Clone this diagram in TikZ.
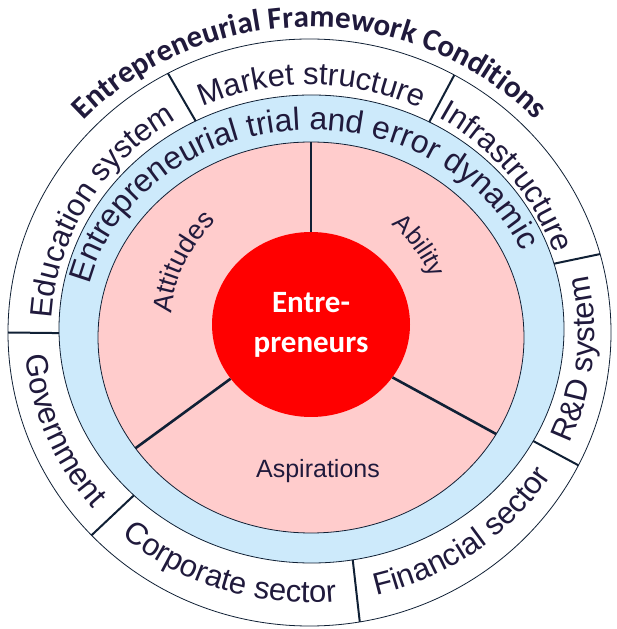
\documentclass[tikz,border=0pt]{standalone}
\usepackage{fontspec}
\setmainfont{Liberation Sans}
\newfontfamily\carlito{Carlito}
\usepackage{tikz}
\usetikzlibrary{shapes.geometric, calc, decorations.text}
\definecolor{ringblue}{RGB}{205,234,251}
\definecolor{piepink}{RGB}{255,204,204}
\definecolor{corered}{RGB}{255,0,0}
\definecolor{inkblue}{RGB}{32,26,60}
\definecolor{lineblue}{RGB}{16,32,53}
\newcommand{\ringfont}{\fontsize{31}{31}\selectfont}
\newcommand{\dynfont}{\fontsize{32}{32}\selectfont}
\newcommand{\piefont}{\fontsize{25}{25}\selectfont}
\newcommand{\sidefont}{\fontsize{27}{27}\selectfont}
\newcommand{\titfont}{\carlito\bfseries\fontsize{31}{31}\selectfont}

\begin{document}
\begin{tikzpicture}[x=1pt, y=1pt,
  rim/.style={draw=lineblue, line width=0.8pt},
  sector/.style={draw=lineblue, line width=2pt},
  wedge/.style={draw=lineblue, line width=2.6pt},
  core/.style={ellipse, fill=corered, minimum width=198pt, minimum height=185pt,
    inner sep=0pt, align=center, text=white,
    font=\carlito\bfseries\fontsize{31}{40}\selectfont},
  pielabel/.style={text=inkblue, font=\piefont, inner sep=0pt},
  arctext/.style={decorate, decoration={text along path, text align=center,
    text color=inkblue, text={#1}}}
]
  \useasboundingbox (0,0) rectangle (616,629);

  \coordinate (outer) at (309.5,296.5);
  \coordinate (ring) at (311.5,300);
  \coordinate (pie) at (311,291.5);

  \draw[rim, fill=white] (outer) ellipse [x radius=301.5pt, y radius=293.5pt];
  \draw[rim, fill=ringblue] (ring) ellipse [x radius=252.5pt, y radius=234pt];
  \draw[rim, fill=piepink] (pie) ellipse [x radius=213pt, y radius=195.5pt];
  \node[core] (core) at (311,304.5) {Entre-\\preneurs};

  % framework conditions
  \foreach \a/\b in {181/180, 117.3/118, 62.2/61.3, 16.2/15.5,
      -28.6/-26.9, -80.6/-80.4, 225.3/223.7}
    \draw[sector] ($(ring)+(\a:252.5pt and 234pt)$) -- ($(outer)+(\b:301.5pt and 293.5pt)$);

  % attitudes, ability, aspirations
  \draw[wedge] (core.90) -- ($(pie)+(90:213pt and 195.5pt)$);
  \draw[wedge] (core.214.9) -- ($(pie)+(214.5:213pt and 195.5pt)$);
  \draw[wedge] (core.327.6) -- ($(pie)+(-29.6:213pt and 195.5pt)$);

  \path[arctext={|\titfont|Entrepreneurial Framework Conditions}]
    ($(outer)+(150:313.5pt and 305.5pt)$)
    arc[start angle=150, end angle=30, x radius=313.5pt, y radius=305.5pt];

  \path[arctext={|\ringfont|Education system}]
    ($(outer)+(184:258pt and 248pt)$)
    arc[start angle=184, end angle=114, x radius=258pt, y radius=248pt];
  \path[arctext={|\ringfont|Market structure}]
    ($(outer)+(125:258pt and 248pt)$)
    arc[start angle=125, end angle=54, x radius=258pt, y radius=248pt];
  \path[arctext={|\ringfont|Infrastructure}]
    ($(outer)+(74:258pt and 248pt)$)
    arc[start angle=74, end angle=4, x radius=258pt, y radius=248pt];
  \path[arctext={|\ringfont|R{\&}D system}]
    ($(outer)+(-41:285pt and 270pt)$)
    arc[start angle=-41, end angle=29, x radius=285pt, y radius=270pt];
  \path[arctext={|\ringfont|Financial sector}]
    ($(outer)+(-89:285pt and 270pt)$)
    arc[start angle=-89, end angle=-19, x radius=285pt, y radius=270pt];
  \path[arctext={|\ringfont|Corporate sector}]
    ($(outer)+(-143:285pt and 270pt)$)
    arc[start angle=-143, end angle=-73, x radius=285pt, y radius=270pt];
  \path[arctext={|\ringfont|Government}]
    ($(outer)+(167.5:285pt and 270pt)$)
    arc[start angle=167.5, end angle=237.5, x radius=285pt, y radius=270pt];

  \path[arctext={|\dynfont|Entrepreneurial trial and error dynamic}]
    ($(ring)+(175:228pt and 199pt)$)
    arc[start angle=175, end angle=15, x radius=228pt, y radius=199pt];

  \path[arctext={|\sidefont|Attitudes}]
    ($(core.center)+(182:140pt)$) arc[start angle=182, end angle=126, radius=140pt];
  \path[arctext={|\piefont|Ability}]
    ($(core.center)+(66:128pt)$) arc[start angle=66, end angle=6, radius=128pt];
  \node[pielabel, anchor=base] (aspirations) at (318,151) {Aspirations};
\end{tikzpicture}
\end{document}
